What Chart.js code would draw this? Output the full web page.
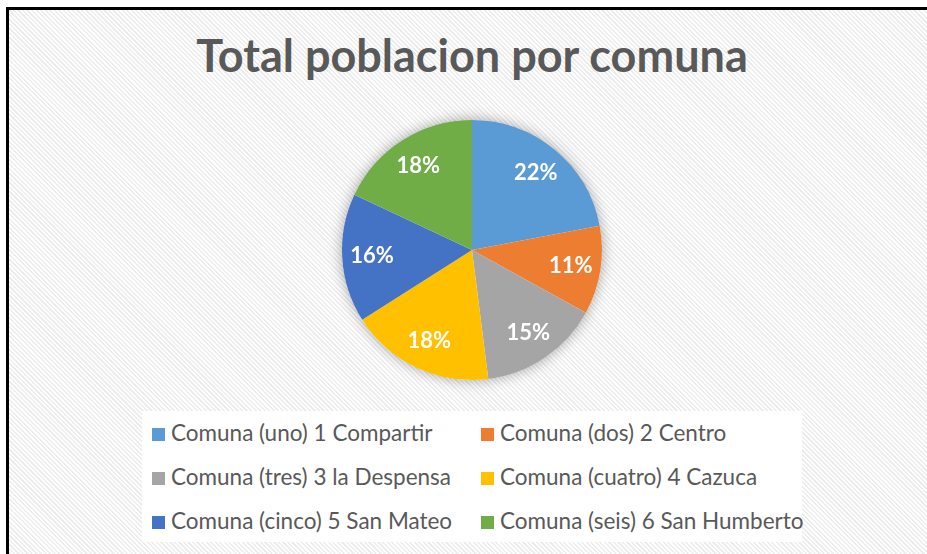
<!DOCTYPE html>
<html lang="es">
<head>
    <meta charset="UTF-8">
    <title>Total poblacion por comuna</title>
    <style>
        html, body {
            margin: 0;
            padding: 0;
            width: 927px;
            height: 554px;
            overflow: hidden;
            background: #fff;
            font-family: Lato, "Open Sans", sans-serif;
        }
        .frame {
            position: absolute;
            left: 6px;
            top: 7px;
            width: 940px;
            height: 560px;
            border-left: 3px solid #000;
            border-top: 3px solid #000;
            background: repeating-linear-gradient(45deg, #ffffff 0px, #ffffff 1.6px, #ededed 1.6px, #ededed 3.2px);
        }
        .title {
            position: absolute;
            left: 0;
            width: 944px;
            top: 28px;
            text-align: center;
            font-weight: bold;
            font-size: 45px;
            color: #595959;
        }
        .legend {
            position: absolute;
            left: 142px;
            top: 411px;
            width: 660px;
            height: 131px;
            background: #fff;
        }
        .legend .item {
            position: absolute;
            font-size: 22.5px;
            color: #595959;
            white-space: nowrap;
            line-height: 24px;
        }
        .legend .box {
            display: inline-block;
            width: 13px;
            height: 13px;
            margin-right: 6px;
            vertical-align: 0px;
        }
        canvas {
            position: absolute;
            left: 0;
            top: 0;
        }
    </style>
    <script src="https://cdn.jsdelivr.net/npm/chart.js"></script>
</head>
<body>
    <div class="frame"></div>
    <div class="title">Total poblacion por comuna</div>
    <div class="legend" id="legend"></div>
    <canvas id="pieChart" width="927" height="554"></canvas>
    <script>
        const comunas = [
            'Comuna (uno) 1 Compartir',
            'Comuna (dos) 2 Centro',
            'Comuna (tres) 3 la Despensa',
            'Comuna (cuatro) 4 Cazuca',
            'Comuna (cinco) 5 San Mateo',
            'Comuna (seis) 6 San Humberto'
        ];
        const porcentajes = [22, 11, 15, 18, 16, 18];
        const colores = ['#5B9BD5', '#ED7D31', '#A5A5A5', '#FFC000', '#4472C4', '#70AD47'];

        // legend in two columns, like the Excel one
        const legend = document.getElementById('legend');
        comunas.forEach((name, i) => {
            const item = document.createElement('div');
            item.className = 'item';
            item.style.left = (i % 2 === 0 ? 10 : 339) + 'px';
            item.style.top = (10 + Math.floor(i / 2) * 44) + 'px';
            item.innerHTML = `<span class="box" style="background:${colores[i]}"></span>${name}`;
            legend.appendChild(item);
        });

        // soft halo behind the pie
        const pieShadow = {
            id: 'pieShadow',
            beforeDatasetsDraw(chart) {
                const arc = chart.getDatasetMeta(0).data[0];
                if (!arc) return;
                const ctx = chart.ctx;
                ctx.save();
                ctx.shadowColor = 'rgba(0,0,0,0.35)';
                ctx.shadowBlur = 14;
                ctx.fillStyle = '#ffffff';
                ctx.beginPath();
                ctx.arc(arc.x, arc.y, arc.outerRadius, 0, Math.PI * 2);
                ctx.fill();
                ctx.restore();
            }
        };

        // percentage labels inside each slice
        const sliceLabels = {
            id: 'sliceLabels',
            afterDatasetsDraw(chart) {
                const ctx = chart.ctx;
                ctx.save();
                ctx.fillStyle = '#ffffff';
                ctx.font = 'bold 22px Lato, "Open Sans", sans-serif';
                ctx.textAlign = 'center';
                ctx.textBaseline = 'middle';
                chart.getDatasetMeta(0).data.forEach((arc, i) => {
                    const mid = (arc.startAngle + arc.endAngle) / 2;
                    const r = arc.outerRadius * 0.77;
                    ctx.fillText(porcentajes[i] + '%', arc.x + Math.cos(mid) * r, arc.y + Math.sin(mid) * r);
                });
                ctx.restore();
            }
        };

        new Chart(document.getElementById('pieChart'), {
            type: 'pie',
            data: {
                labels: comunas,
                datasets: [{
                    data: porcentajes,
                    backgroundColor: colores,
                    borderWidth: 0
                }]
            },
            options: {
                responsive: false,
                animation: false,
                layout: { padding: { left: 342, right: 325, top: 120, bottom: 174 } },
                plugins: {
                    legend: { display: false },
                    tooltip: { enabled: false }
                }
            },
            plugins: [pieShadow, sliceLabels]
        });
    </script>
</body>
</html>
